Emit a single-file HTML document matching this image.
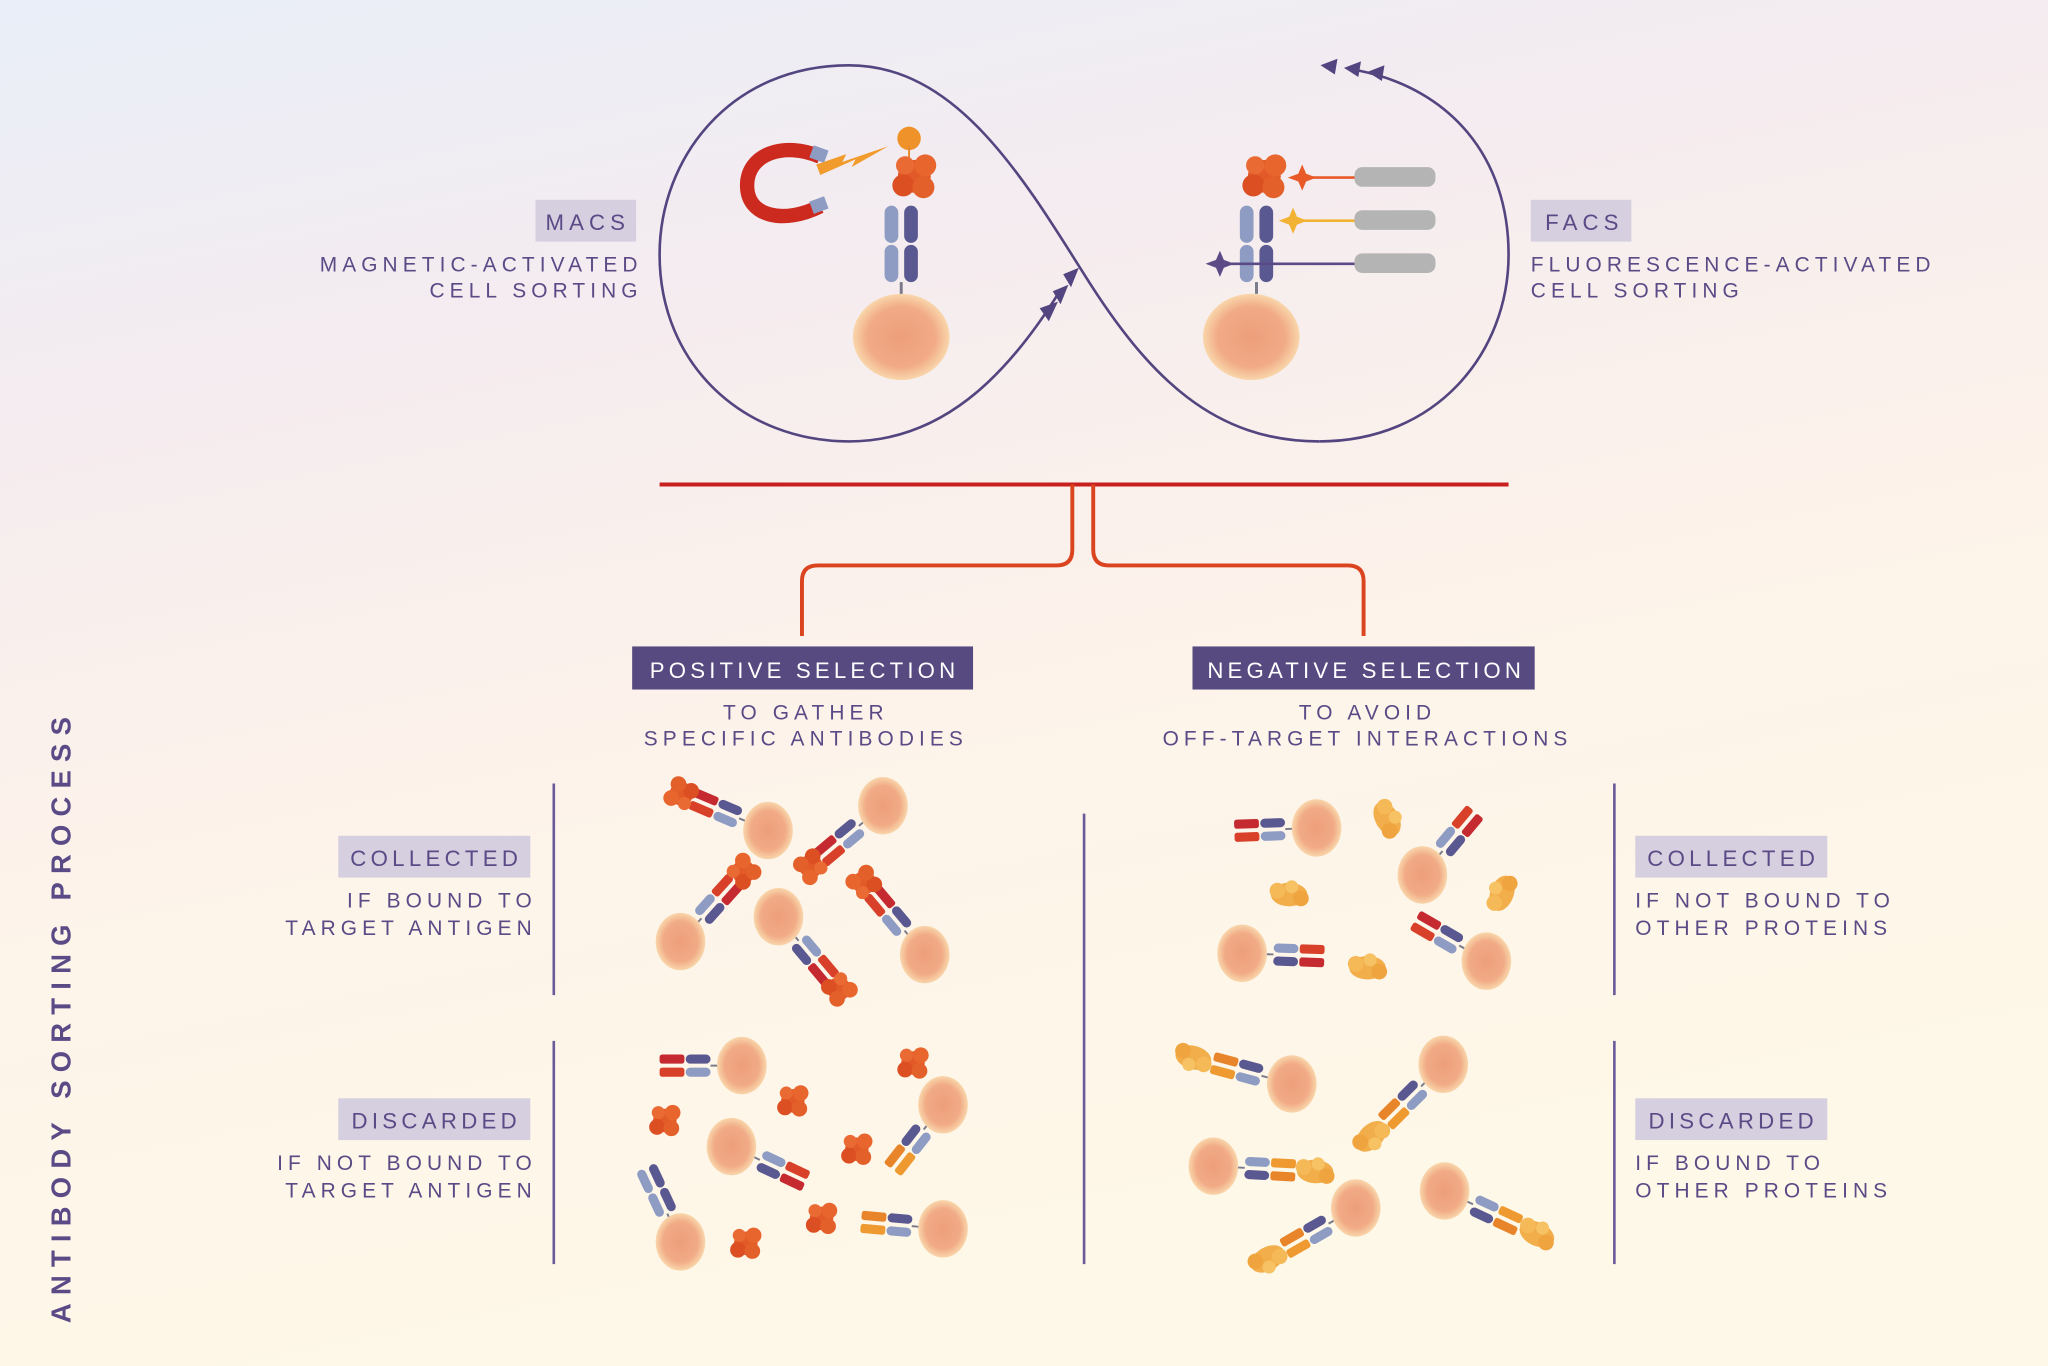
<!DOCTYPE html>
<html><head><meta charset="utf-8"><style>
html,body{margin:0;padding:0;width:2048px;height:1366px;overflow:hidden}
svg{display:block}
text{font-family:"Liberation Sans",sans-serif;fill:#5a4a86;letter-spacing:3.9px}
</style></head><body>
<svg width="2048" height="1366" viewBox="0 0 1568 1046" preserveAspectRatio="none" xmlns="http://www.w3.org/2000/svg">
<defs>
<linearGradient id="bg" x1="0" y1="0" x2="0.3" y2="1">
<stop offset="0" stop-color="#e9eef8"/><stop offset="0.3" stop-color="#f5ecef"/><stop offset="0.6" stop-color="#fdf3ea"/><stop offset="1" stop-color="#fef8e8"/></linearGradient>
<radialGradient id="cell"><stop offset="0" stop-color="#ee9e7c"/><stop offset="0.7" stop-color="#f1ab86"/><stop offset="1" stop-color="#f9d6ab"/></radialGradient>
<linearGradient id="redline" x1="0" x2="1"><stop offset="0" stop-color="#e05a25"/><stop offset="1" stop-color="#c81e1e"/></linearGradient>
<g id="ag"><circle cx="0" cy="0" r="9" fill="#e25a28"/><circle cx="6" cy="-6" r="6" fill="#e8652e"/><circle cx="-6" cy="5" r="6" fill="#dc4f22"/><circle cx="5" cy="6" r="6" fill="#e4602a"/><circle cx="-5" cy="-6" r="5" fill="#ea6a34"/></g>
<g id="ay"><ellipse cx="0" cy="0" rx="14" ry="9" fill="#f2ae4a"/><circle cx="-9" cy="-3" r="6" fill="#f5b957"/><circle cx="9" cy="3" r="6" fill="#efa43f"/><circle cx="2" cy="-6" r="5" fill="#f6c263"/></g>
<g id="abp"><line x1="0" y1="0" x2="6" y2="0" stroke="#7a7a8a" stroke-width="1.5"/>
<rect x="6" y="-8.5" width="19" height="7" rx="3.5" fill="#8e9cc4"/><rect x="6" y="1.5" width="19" height="7" rx="3.5" fill="#5a5890"/>
<rect x="26" y="-8.5" width="19" height="7" rx="3.5" fill="#8e9cc4"/><rect x="26" y="1.5" width="19" height="7" rx="3.5" fill="#5a5890"/></g>
<g id="abr"><line x1="0" y1="0" x2="6" y2="0" stroke="#7a7a8a" stroke-width="1.5"/>
<rect x="6" y="-8.5" width="19" height="7" rx="3.5" fill="#8e9cc4"/><rect x="6" y="1.5" width="19" height="7" rx="3.5" fill="#5a5890"/>
<rect x="26" y="-8.5" width="19" height="7" rx="2" fill="#d8402a"/><rect x="26" y="1.5" width="19" height="7" rx="2" fill="#c42a30"/></g>
<g id="abo"><line x1="0" y1="0" x2="6" y2="0" stroke="#7a7a8a" stroke-width="1.5"/>
<rect x="6" y="-8.5" width="19" height="7" rx="3.5" fill="#8e9cc4"/><rect x="6" y="1.5" width="19" height="7" rx="3.5" fill="#5a5890"/>
<rect x="26" y="-8.5" width="19" height="7" rx="2" fill="#ee9a30"/><rect x="26" y="1.5" width="19" height="7" rx="2" fill="#e8852a"/></g>
</defs>
<rect width="1568" height="1046" fill="url(#bg)"/>

<g fill="none" stroke="#53457f" stroke-width="2">
<path d="M1010,338 C930,338 880,290 830,210 C780,130 730,50 650,50 C560,50 505,120 505,195 C505,280 570,338 650,338 C720,338 770,290 812,222"/>
<path d="M1010,338 C1100,338 1155,270 1155,195 C1155,120 1110,68 1040,54"/>
</g>
<g fill="#53457f">
<polygon points="1011,50 1024,45 1022,57"/><polygon points="1029,52 1042,47 1040,59"/><polygon points="1047,55 1060,50 1058,62"/>
<polygon points="826,205 814,210 820,220"/><polygon points="818,218 806,223 812,233"/><polygon points="810,231 796,236 803,246"/>
</g>

<path d="M628,120 C600,108 572,118 572,142 C572,166 600,172 628,158" fill="none" stroke="#cc2a1e" stroke-width="11"/>
<rect x="621" y="113" width="12" height="10" fill="#8e9cc4" transform="rotate(20 627 118)"/>
<rect x="621" y="152" width="12" height="10" fill="#8e9cc4" transform="rotate(-20 627 157)"/>
<polygon points="625,126 648,118 645,124 680,112 652,128 655,122 628,134" fill="#f19b2c"/>
<circle cx="696" cy="106" r="9" fill="#f0922a"/>
<line x1="696" y1="112" x2="696" y2="125" stroke="#e88a30" stroke-width="1.5"/>
<ellipse cx="690" cy="258" rx="37" ry="33" fill="url(#cell)"/>
<g transform="translate(690,225) rotate(-90) scale(1.5)"><use href="#abp"/></g>
<g transform="translate(700,135) scale(1.4)"><use href="#ag"/></g>

<ellipse cx="958" cy="258" rx="37" ry="33" fill="url(#cell)"/>
<g transform="translate(962,225) rotate(-90) scale(1.5)"><use href="#abp"/></g>
<g transform="translate(968,135) scale(1.4)"><use href="#ag"/></g>
<line x1="995" y1="136" x2="1040" y2="136" stroke="#e85a28" stroke-width="2"/>
<line x1="990" y1="169" x2="1040" y2="169" stroke="#f2b233" stroke-width="2"/>
<line x1="935" y1="202" x2="1040" y2="202" stroke="#5a4a86" stroke-width="2"/>
<polygon points="997,126 1000,133 1008,136 1000,139 997,146 994,139 986,136 994,133" fill="#e85a28"/>
<polygon points="990,159 993,166 1001,169 993,172 990,179 987,172 979,169 987,166" fill="#f2b233"/>
<polygon points="934,192 937,199 945,202 937,205 934,212 931,205 923,202 931,199" fill="#5a4a86"/>
<g fill="#b4b4b4"><rect x="1037" y="128" width="62" height="15" rx="6"/><rect x="1037" y="161" width="62" height="15" rx="6"/><rect x="1037" y="194" width="62" height="15" rx="6"/></g>

<rect x="410" y="153" width="77" height="32" fill="#d5cfe0"/>
<text x="450" y="176" font-size="17" text-anchor="middle">MACS</text>
<text x="492" y="208" font-size="16" text-anchor="end">MAGNETIC-ACTIVATED</text>
<text x="492" y="228" font-size="16" text-anchor="end">CELL SORTING</text>
<rect x="1172" y="153" width="77" height="32" fill="#d5cfe0"/>
<text x="1213" y="176" font-size="17" text-anchor="middle">FACS</text>
<text x="1172" y="208" font-size="16">FLUORESCENCE-ACTIVATED</text>
<text x="1172" y="228" font-size="16">CELL SORTING</text>

<line x1="505" y1="371" x2="1155" y2="371" stroke="#c8201e" stroke-width="3"/>
<g fill="none" stroke="#da4520" stroke-width="3">
<path d="M821,371 V421 Q821,433 809,433 H626 Q614,433 614,445 V487"/>
<path d="M837,371 V421 Q837,433 849,433 H1032 Q1044,433 1044,445 V487"/>
</g>

<rect x="484" y="495" width="261" height="33" fill="#564a80"/>
<text x="616" y="519" font-size="17" text-anchor="middle" style="fill:#fff;letter-spacing:3.2px">POSITIVE SELECTION</text>
<rect x="913" y="495" width="262" height="33" fill="#564a80"/>
<text x="1046" y="519" font-size="17" text-anchor="middle" style="fill:#fff;letter-spacing:3.2px">NEGATIVE SELECTION</text>
<text x="617" y="551" font-size="16" text-anchor="middle">TO GATHER</text>
<text x="617" y="571" font-size="16" text-anchor="middle">SPECIFIC ANTIBODIES</text>
<text x="1047" y="551" font-size="16" text-anchor="middle">TO AVOID</text>
<text x="1047" y="571" font-size="16" text-anchor="middle">OFF-TARGET INTERACTIONS</text>

<g stroke="#6a5a9a" stroke-width="2">
<line x1="424" y1="600" x2="424" y2="762"/><line x1="424" y1="797" x2="424" y2="968"/>
<line x1="830" y1="623" x2="830" y2="968"/>
<line x1="1236" y1="600" x2="1236" y2="762"/><line x1="1236" y1="797" x2="1236" y2="968"/>
</g>
<line x1="475" y1="779" x2="754" y2="779" stroke="url(#redline)" stroke-width="2"/>
<line x1="904" y1="779" x2="1184" y2="779" stroke="url(#redline)" stroke-width="2"/>

<rect x="259" y="640" width="147" height="32" fill="#d5cfe0"/>
<text x="334" y="663" font-size="17" text-anchor="middle" style="letter-spacing:3.3px">COLLECTED</text>
<text x="411" y="695" font-size="16" text-anchor="end">IF BOUND TO</text>
<text x="411" y="716" font-size="16" text-anchor="end">TARGET ANTIGEN</text>
<rect x="259" y="841" width="147" height="32" fill="#d5cfe0"/>
<text x="334" y="864" font-size="17" text-anchor="middle" style="letter-spacing:3.3px">DISCARDED</text>
<text x="411" y="896" font-size="16" text-anchor="end">IF NOT BOUND TO</text>
<text x="411" y="917" font-size="16" text-anchor="end">TARGET ANTIGEN</text>
<rect x="1252" y="640" width="147" height="32" fill="#d5cfe0"/>
<text x="1327" y="663" font-size="17" text-anchor="middle" style="letter-spacing:3.3px">COLLECTED</text>
<text x="1252" y="695" font-size="16">IF NOT BOUND TO</text>
<text x="1252" y="716" font-size="16">OTHER PROTEINS</text>
<rect x="1252" y="841" width="147" height="32" fill="#d5cfe0"/>
<text x="1327" y="864" font-size="17" text-anchor="middle" style="letter-spacing:3.3px">DISCARDED</text>
<text x="1252" y="896" font-size="16">IF BOUND TO</text>
<text x="1252" y="917" font-size="16">OTHER PROTEINS</text>

<text transform="translate(54,778) rotate(-90)" font-size="21" font-weight="bold" text-anchor="middle" style="letter-spacing:6.3px">ANTIBODY SORTING PROCESS</text>

<g>
<g transform="translate(588,636) rotate(203)"><g transform="translate(18,0)"><use href="#abr"/><use href="#ag" x="54" y="0"/></g></g>
<g transform="translate(676,617) rotate(140)"><g transform="translate(18,0)"><use href="#abr"/><use href="#ag" x="54"/></g></g>
<g transform="translate(521,721) rotate(-48)"><g transform="translate(18,0)"><use href="#abr"/><use href="#ag" x="54"/></g></g>
<g transform="translate(596,702) rotate(50)"><g transform="translate(18,0)"><use href="#abr"/><use href="#ag" x="54"/></g></g>
<g transform="translate(708,731) rotate(230)"><g transform="translate(18,0)"><use href="#abr"/><use href="#ag" x="54"/></g></g>
<ellipse cx="588" cy="636" rx="19" ry="22" fill="url(#cell)"/>
<ellipse cx="676" cy="617" rx="19" ry="22" fill="url(#cell)"/>
<ellipse cx="521" cy="721" rx="19" ry="22" fill="url(#cell)"/>
<ellipse cx="596" cy="702" rx="19" ry="22" fill="url(#cell)"/>
<ellipse cx="708" cy="731" rx="19" ry="22" fill="url(#cell)"/>
</g>

<g>
<g transform="translate(568,816) rotate(180)"><g transform="translate(18,0)"><use href="#abr"/></g></g>
<g transform="translate(722,846) rotate(128)"><g transform="translate(18,0)"><use href="#abo"/></g></g>
<g transform="translate(560,878) rotate(25)"><g transform="translate(18,0)"><use href="#abr"/></g></g>
<g transform="translate(521,951) rotate(245)"><g transform="translate(18,0)"><use href="#abp"/></g></g>
<g transform="translate(722,941) rotate(185)"><g transform="translate(18,0)"><use href="#abo"/></g></g>
<ellipse cx="568" cy="816" rx="19" ry="22" fill="url(#cell)"/>
<ellipse cx="722" cy="846" rx="19" ry="22" fill="url(#cell)"/>
<ellipse cx="560" cy="878" rx="19" ry="22" fill="url(#cell)"/>
<ellipse cx="521" cy="951" rx="19" ry="22" fill="url(#cell)"/>
<ellipse cx="722" cy="941" rx="19" ry="22" fill="url(#cell)"/>
<use href="#ag" x="699" y="814"/><use href="#ag" x="607" y="843"/><use href="#ag" x="509" y="858"/>
<use href="#ag" x="656" y="880"/><use href="#ag" x="629" y="933"/><use href="#ag" x="571" y="952"/>
</g>

<g>
<g transform="translate(1008,634) rotate(178)"><g transform="translate(18,0)"><use href="#abr"/></g></g>
<g transform="translate(1089,670) rotate(-50)"><g transform="translate(18,0)"><use href="#abr"/></g></g>
<g transform="translate(951,730) rotate(2)"><g transform="translate(18,0)"><use href="#abr"/></g></g>
<g transform="translate(1138,736) rotate(210)"><g transform="translate(18,0)"><use href="#abr"/></g></g>
<ellipse cx="1008" cy="634" rx="19" ry="22" fill="url(#cell)"/>
<ellipse cx="1089" cy="670" rx="19" ry="22" fill="url(#cell)"/>
<ellipse cx="951" cy="730" rx="19" ry="22" fill="url(#cell)"/>
<ellipse cx="1138" cy="736" rx="19" ry="22" fill="url(#cell)"/>
<g transform="translate(1062,627) rotate(60)"><use href="#ay"/></g>
<use href="#ay" x="987" y="685"/>
<g transform="translate(1150,684) rotate(-70)"><use href="#ay"/></g>
<use href="#ay" x="1047" y="741"/>
</g>

<g>
<g transform="translate(989,830) rotate(195)"><g transform="translate(18,0)"><use href="#abo"/><use href="#ay" x="60"/></g></g>
<g transform="translate(1105,815) rotate(135)"><g transform="translate(18,0)"><use href="#abo"/><use href="#ay" x="60"/></g></g>
<g transform="translate(929,893) rotate(3)"><g transform="translate(18,0)"><use href="#abo"/><use href="#ay" x="60"/></g></g>
<g transform="translate(1038,925) rotate(150)"><g transform="translate(18,0)"><use href="#abo"/><use href="#ay" x="60"/></g></g>
<g transform="translate(1106,912) rotate(25)"><g transform="translate(18,0)"><use href="#abo"/><use href="#ay" x="60"/></g></g>
<ellipse cx="989" cy="830" rx="19" ry="22" fill="url(#cell)"/>
<ellipse cx="1105" cy="815" rx="19" ry="22" fill="url(#cell)"/>
<ellipse cx="929" cy="893" rx="19" ry="22" fill="url(#cell)"/>
<ellipse cx="1038" cy="925" rx="19" ry="22" fill="url(#cell)"/>
<ellipse cx="1106" cy="912" rx="19" ry="22" fill="url(#cell)"/>
</g>
</svg>
</body></html>
